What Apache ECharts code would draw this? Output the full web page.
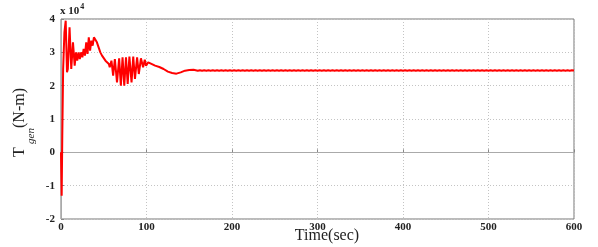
<!DOCTYPE html>
<html><head><meta charset="utf-8">
<script src="https://cdn.jsdelivr.net/npm/echarts@6/dist/echarts.min.js"></script>
<style>html,body{margin:0;padding:0;background:#fff}#c{width:598px;height:247px}</style>
</head><body><div id="c"></div>
<script>
// Values in units of 1e4 N-m (axis shows "x 10^4")
var xTicks = [0,100,200,300,400,500,600];
var yTicks = [-2,-1,0,1,2,3,4];
var transientTime = [0,0.8,1.5,2.5,4,5.5,7,8,10,12,14,16,17.5,19,20.5,22,23.5,25,26.5,28,29.5,31,32.5,34,35.5,37,38.5,40,42,44,46,48,50,52,54,56,
  57,59,61,63,65.5,68,70,72,74,76,78,80,82.5,84.5,86.5,89,91,93.5,96,98,99.5,102,104,
  107,110,115,120,125,130,135,140,145,150,155];
var transientValue = [0,-1.3,0.5,2.5,3.6,3.95,2.4,2.5,3.75,2.5,3.3,2.6,3.0,2.75,3.0,2.8,3.0,2.85,3.1,2.9,3.3,2.95,3.45,3.05,3.35,3.2,3.45,3.4,3.3,3.15,3.0,2.9,2.85,2.75,2.7,2.65,
  2.55,2.75,2.3,2.8,2.1,2.82,2.0,2.85,2.0,2.85,2.05,2.87,2.1,2.87,2.2,2.85,2.35,2.82,2.55,2.78,2.6,2.7,2.65,
  2.64,2.6,2.56,2.5,2.42,2.38,2.36,2.4,2.45,2.47,2.48];
var steadyTime = [
  160,162.5,165,167.5,170,172.5,175,177.5,180,182.5,185,187.5,190,192.5,195,197.5,
  200,202.5,205,207.5,210,212.5,215,217.5,220,222.5,225,227.5,230,232.5,235,237.5,
  240,242.5,245,247.5,250,252.5,255,257.5,260,262.5,265,267.5,270,272.5,275,277.5,
  280,282.5,285,287.5,290,292.5,295,297.5,300,302.5,305,307.5,310,312.5,315,317.5,
  320,322.5,325,327.5,330,332.5,335,337.5,340,342.5,345,347.5,350,352.5,355,357.5,
  360,362.5,365,367.5,370,372.5,375,377.5,380,382.5,385,387.5,390,392.5,395,397.5,
  400,402.5,405,407.5,410,412.5,415,417.5,420,422.5,425,427.5,430,432.5,435,437.5,
  440,442.5,445,447.5,450,452.5,455,457.5,460,462.5,465,467.5,470,472.5,475,477.5,
  480,482.5,485,487.5,490,492.5,495,497.5,500,502.5,505,507.5,510,512.5,515,517.5,
  520,522.5,525,527.5,530,532.5,535,537.5,540,542.5,545,547.5,550,552.5,555,557.5,
  560,562.5,565,567.5,570,572.5,575,577.5,580,582.5,585,587.5,590,592.5,595,597.5,
  600];
var steadyValue = [
  2.45,2.465,2.45,2.465,2.45,2.465,2.45,2.465,2.45,2.465,2.45,2.465,2.45,2.465,2.45,2.465,
  2.45,2.465,2.45,2.465,2.45,2.465,2.45,2.465,2.45,2.465,2.45,2.465,2.45,2.465,2.45,2.465,
  2.45,2.465,2.45,2.465,2.45,2.465,2.45,2.465,2.45,2.465,2.45,2.465,2.45,2.465,2.45,2.465,
  2.45,2.465,2.45,2.465,2.45,2.465,2.45,2.465,2.45,2.465,2.45,2.465,2.45,2.465,2.45,2.465,
  2.45,2.465,2.45,2.465,2.45,2.465,2.45,2.465,2.45,2.465,2.45,2.465,2.45,2.465,2.45,2.465,
  2.45,2.465,2.45,2.465,2.45,2.465,2.45,2.465,2.45,2.465,2.45,2.465,2.45,2.465,2.45,2.465,
  2.45,2.465,2.45,2.465,2.45,2.465,2.45,2.465,2.45,2.465,2.45,2.465,2.45,2.465,2.45,2.465,
  2.45,2.465,2.45,2.465,2.45,2.465,2.45,2.465,2.45,2.465,2.45,2.465,2.45,2.465,2.45,2.465,
  2.45,2.465,2.45,2.465,2.45,2.465,2.45,2.465,2.45,2.465,2.45,2.465,2.45,2.465,2.45,2.465,
  2.45,2.465,2.45,2.465,2.45,2.465,2.45,2.465,2.45,2.465,2.45,2.465,2.45,2.465,2.45,2.465,
  2.45,2.465,2.45,2.465,2.45,2.465,2.45,2.465,2.45,2.465,2.45,2.465,2.45,2.465,2.45,2.465,
  2.457];

var data = [];
transientTime.forEach(function(t,i){ data.push([t, transientValue[i]]); });
steadyTime.forEach(function(t,i){ data.push([t, steadyValue[i]]); });

var serif = '"Liberation Serif","DejaVu Serif",serif';

// y-axis title pieces, each drawn as the name of a hidden helper axis
function helperY(gridIndex, name, size, italic, gap) {
  return {
    gridIndex: gridIndex, type: 'value', min: 0, max: 1,
    name: name, nameLocation: 'middle', nameRotate: 90, nameGap: gap,
    nameTextStyle: {fontFamily: serif, fontSize: size, fontStyle: italic ? 'italic' : 'normal', color: '#222'},
    axisLine: {show: false}, axisTick: {show: false}, axisLabel: {show: false}, splitLine: {show: false}
  };
}
function helperX(gridIndex) {
  return {gridIndex: gridIndex, type: 'value', show: false, min: 0, max: 1};
}

var chart = echarts.init(document.getElementById('c'));
chart.setOption({
  animation: false,
  grid: [
    {left: 61, right: 24, top: 19, bottom: 28, show: true, borderColor: '#777', borderWidth: 1},
    {left: 61, right: 536, top: 142, bottom: 85},
    {left: 61, right: 536, top: 126, bottom: 101},
    {left: 61, right: 536, top: 88, bottom: 119}
  ],
  xAxis: [{
    gridIndex: 0, type: 'value', min: xTicks[0], max: xTicks[xTicks.length-1], interval: 100,
    axisLine: {lineStyle: {color: '#aaa'}},
    axisTick: {inside: true, length: 3, lineStyle: {color: '#888'}},
    axisLabel: {color: '#222', fontFamily: serif, fontWeight: 'bold', fontSize: 11, margin: 3},
    splitLine: {show: true, lineStyle: {color: '#c4c4c4', type: [1,2], width: 1}}
  }, helperX(1), helperX(2), helperX(3)],
  yAxis: [{
    gridIndex: 0, type: 'value', min: yTicks[0], max: yTicks[yTicks.length-1], interval: 1,
    axisLine: {show: true, lineStyle: {color: '#aaa'}},
    axisTick: {show: true, inside: true, length: 3, lineStyle: {color: '#888'}},
    axisLabel: {color: '#222', fontFamily: serif, fontWeight: 'bold', fontSize: 11, margin: 6},
    splitLine: {show: true, lineStyle: {color: '#c4c4c4', type: [1,2], width: 1}}
  }, helperY(1, 'T', 16, false, 33), helperY(2, 'gen', 11, true, 24), helperY(3, '(N-m)', 16, false, 33)],
  graphic: [
    {type: 'text', left: 60, top: 3, style: {
      text: '{a|x 10}{b|4}', rich: {
        a: {fontFamily: serif, fontWeight: 'bold', fontSize: 11, fill: '#222', verticalAlign: 'bottom'},
        b: {fontFamily: serif, fontWeight: 'bold', fontSize: 8, fill: '#222', verticalAlign: 'top', padding: [0,0,6,1]}
      }}},
    {type: 'text', x: 327, y: 236, style: {
      text: 'Time(sec)', font: '16px ' + serif, fill: '#222', align: 'center', verticalAlign: 'middle'}}
  ],
  series: [{
    type: 'line', data: data, showSymbol: false, xAxisIndex: 0, yAxisIndex: 0,
    lineStyle: {color: '#ff0000', width: 2}, z: 5
  }]
});
</script></body></html>
